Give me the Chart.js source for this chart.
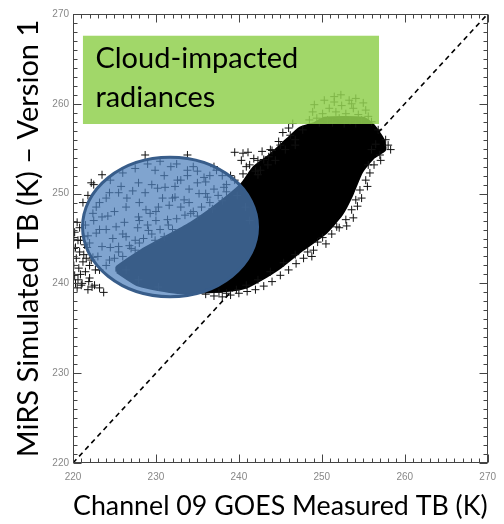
<!DOCTYPE html>
<html>
<head>
<meta charset="utf-8">
<script src="https://cdn.jsdelivr.net/npm/chart.js@4.4.1/dist/chart.umd.min.js"></script>
<style>
html,body{margin:0;padding:0;background:#fff;}
canvas{display:block;}
</style>
</head>
<body>
<canvas id="c" width="504" height="524"></canvas>
<script>
// ---- data (Kelvin) ----
const xTickValues = [220, 230, 240, 250, 260, 270];
const yTickValues = [220, 230, 240, 250, 260, 270];
const xTitle = "Channel 09 GOES Measured TB (K)";
const yTitle = "MiRS Simulated TB (K) \u2013 Version 1";
const noteLines = ["Cloud-impacted", "radiances"];

// outline of the saturated (solid black) part of the scatter cloud
const denseX = [225.3,227.9,232.6,238.5,240.9,242.6,245.0,247.6,250.3,252.4,253.6,254.8,256.2,257.6,257.4,256.2,255.0,250.3,249.1,247.4,245.8,243.8,241.8,240.3,237.3,234.2,228.3,225.3,225.3];
const denseY = [241.3,239.8,239.0,239.2,239.6,240.4,241.8,243.7,245.5,247.7,249.8,252.4,254.0,254.9,256.0,257.6,258.4,258.4,257.8,257.3,256.0,254.3,252.9,251.0,248.7,246.7,243.7,241.8,241.3];

// individual points around the edges of the cloud
const ptsX = [
 220.2,220.6,220.1,220.8,220.4,221.2,220.7,221.5,220.2,222.0,221.1,222.6,220.5,221.8,223.2,223.7,221.4,222.2,220.1,222.7,221.8,220.8,220.6,221.3,222.0,220.1,
 220.3,220.9,221.6,220.5,221.0,222.3,220.3,221.9,220.9,221.7,
 228.7,223.5,222.2,221.2,233.8,239.5,241.1,240.3,242.3,243.6,
 229.9,231.8,233.8,227.9,225.5,224.4,223.2,222.4,223.5,226.4,228.7,231.1,232.6,235.0,235.8,237.3,238.2,236.2,233.4,230.3,227.9,225.2,222.8,222.0,223.5,226.4,229.1,231.4,234.2,224.4,222.4,226.4,227.9,230.3,223.2,232.3,229.9,227.5,225.5,
 224.0,225.0,226.0,226.8,227.5,228.5,229.5,230.5,231.5,232.5,233.5,234.5,235.5,236.5,237.5,238.5,239.5,240.5,225.5,227.0,228.0,229.0,230.0,231.0,232.0,233.0,234.0,235.0,236.0,237.0,238.0,239.0,
 223.0,224.5,226.0,228.0,230.0,232.0,234.0,236.0,238.0,221.5,222.5,224.0,225.0,226.5,228.0,229.5,231.0,233.0,235.0,237.0,224.0,221.8,222.5,
 224.5,226.0,227.5,229.0,230.5,232.5,234.5,236.5,238.5,239.8,240.8,241.3,223.2,224.8,226.2,227.8,229.3,230.8,232.3,233.8,235.2,236.8,221.3,222.8,224.2,225.8,227.2,228.8,230.2,231.6,
 242.6,244.4,245.6,246.8,247.7,245.0,243.5,242.3,246.2,246.8,240.9,243.8,
 240.5,241.3,242.0,243.0,244.0,244.8,245.3,246.0,246.5,242.8,241.8,
 258.0,258.3,257.7,256.8,257.1,255.6,255.3,254.6,254.1,253.6,252.9,252.1,256.0,
 256.5,257.0,256.3,255.8,255.5,254.8,254.3,253.8,253.0,251.2,250.5,249.5,248.8,247.8,246.9,246.0,245.0,244.0,243.0,242.0,241.0,240.0,239.0,238.0,237.0,236.0,
 250.1,249.0,251.8,246.8,245.4,243.8,242.3,240.9,239.7,238.5,237.6,248.3
];
const ptsY = [
 245.7,244.8,243.9,243.5,242.8,242.4,241.7,241.3,240.9,240.6,240.0,239.8,239.5,239.3,239.5,239.0,244.3,242.6,242.0,241.5,245.3,246.2,240.4,243.2,242.0,245.1,
 244.0,241.0,242.8,246.8,239.8,239.6,240.0,240.2,244.8,244.0,
 254.3,252.1,251.2,249.0,254.3,254.6,254.6,253.7,253.7,254.1,
 252.6,253.0,252.6,251.2,250.1,250.1,249.0,247.8,247.4,248.5,250.1,250.7,251.5,251.2,251.8,252.6,250.7,249.6,249.3,248.5,247.4,246.3,245.6,244.5,244.1,245.2,245.9,247.1,247.8,242.6,242.9,241.5,240.4,239.6,241.5,249.6,244.8,243.7,244.1,
 242.0,242.8,243.0,244.2,244.8,245.0,245.5,246.0,246.5,247.2,247.6,248.0,248.5,249.0,249.8,250.2,251.5,252.2,243.5,243.9,244.5,246.5,247.0,245.2,246.0,248.5,249.0,247.5,250.0,250.5,249.2,252.0,
 243.0,244.0,245.5,247.0,248.0,249.5,250.5,251.3,252.0,246.5,247.0,246.0,248.0,249.5,249.0,251.0,252.0,251.5,252.5,253.0,249.5,249.8,251.0,
 251.5,252.3,252.8,253.3,253.6,253.3,253.0,252.0,251.0,249.8,248.5,247.0,246.0,245.0,246.8,246.2,247.8,249.5,250.8,252.0,250.0,248.3,245.2,248.5,247.5,250.8,250.3,248.2,250.6,248.7,
 252.6,253.7,254.9,256.0,257.1,255.4,253.2,252.1,256.5,255.4,253.0,254.9,
 254.5,253.2,252.5,253.8,254.8,255.8,256.8,257.3,257.8,254.7,253.9,
 255.4,254.9,256.0,257.1,253.7,253.2,251.5,250.4,249.3,248.2,247.1,246.2,254.9,
 255.5,254.3,253.2,252.3,250.8,249.5,248.6,247.3,246.4,245.5,244.4,244.6,243.0,242.8,242.2,241.5,240.9,240.2,239.7,239.3,239.1,238.9,238.7,238.5,238.6,238.8,
 245.1,243.7,246.3,243.2,242.3,241.3,240.4,239.8,239.3,238.9,239.0,243.5
];

// points lying under the green label box
const boxPtsX = [252.3,250.3,251.5,253.3,254.1,255.0,249.1,250.9,252.4,253.8,255.3,248.9,250.1,251.7,252.9,254.4,255.6,249.4,250.7,252.1,253.4,254.8,256.0,249.7,251.3,252.7,254.1,248.5,251.5,253.6];
const boxPtsY = [261.0,260.4,260.2,260.4,260.6,260.1,259.9,259.5,259.8,259.5,259.3,259.1,258.9,259.1,258.9,258.8,258.6,258.4,258.2,258.4,258.1,258.2,258.0,257.9,257.9,257.8,257.8,258.2,260.8,260.0];

// 1:1 reference line
const oneToOneX = [220, 270];
const oneToOneY = [220, 270];

// annotation shapes (data units)
const noteBox = {x0: 221.2, x1: 256.9, y0: 257.75, y1: 267.58};
const noteTextPos = {x: 222.7, y1: 264.0, y2: 259.65};
const ellipseShape = {cx: 231.7, cy: 246.28, rx: 10.55, ry: 7.76};

// ---- helpers ----
const zip = (xs, ys) => xs.map((x, i) => ({x: x, y: ys[i]}));
const FAMILY = "Lato, 'Open Sans', 'Noto Sans', sans-serif";
function fitSize(text, width) {
  const c = document.createElement('canvas').getContext('2d');
  c.font = '100px ' + FAMILY;
  return 100 * width / c.measureText(text).width;
}
const xTitleSize = fitSize(xTitle, 423);
const yTitleSize = fitSize(yTitle, 438);
const noteSize = fitSize(noteLines[0], 203);

const framePlugin = {
  id: 'frame',
  afterDatasetsDraw(chart) {
    const ctx = chart.ctx;
    const xs = chart.scales.x, ys = chart.scales.y;
    const a = chart.chartArea;
    ctx.save();
    // ellipse
    const cx = xs.getPixelForValue(ellipseShape.cx), cy = ys.getPixelForValue(ellipseShape.cy);
    const rx = xs.getPixelForValue(ellipseShape.cx + ellipseShape.rx) - cx;
    const ry = cy - ys.getPixelForValue(ellipseShape.cy + ellipseShape.ry);
    ctx.beginPath();
    ctx.ellipse(cx, cy, rx, ry, 0, 0, Math.PI * 2);
    ctx.fillStyle = 'rgba(79,129,189,0.72)';
    ctx.fill();
    ctx.lineWidth = 3;
    ctx.strokeStyle = '#385D8A';
    ctx.stroke();
    // green note box
    const bx0 = xs.getPixelForValue(noteBox.x0), bx1 = xs.getPixelForValue(noteBox.x1);
    const by0 = ys.getPixelForValue(noteBox.y1), by1 = ys.getPixelForValue(noteBox.y0);
    ctx.fillStyle = 'rgba(146,208,80,0.86)';
    ctx.fillRect(bx0, by0, bx1 - bx0, by1 - by0);
    ctx.fillStyle = '#000';
    ctx.font = noteSize.toFixed(2) + 'px ' + FAMILY;
    ctx.textBaseline = 'alphabetic';
    ctx.textAlign = 'left';
    ctx.fillText(noteLines[0], xs.getPixelForValue(noteTextPos.x), ys.getPixelForValue(noteTextPos.y1));
    ctx.fillText(noteLines[1], xs.getPixelForValue(noteTextPos.x), ys.getPixelForValue(noteTextPos.y2));
    // frame
    ctx.strokeStyle = '#444';
    ctx.lineWidth = 1;
    const L = Math.round(a.left) + 0.5, R = Math.round(a.right) - 0.5;
    const T = Math.round(a.top) + 0.5, B = Math.round(a.bottom) - 0.5;
    ctx.strokeRect(L, T, R - L, B - T);
    ctx.beginPath();
    for (let v = 220; v <= 270; v++) {
      const major = v % 10 === 0;
      const len = major ? 8 : 4;
      const px = Math.round(xs.getPixelForValue(v)) + 0.5;
      const py = Math.round(ys.getPixelForValue(v)) + 0.5;
      ctx.moveTo(px, B); ctx.lineTo(px, B - len);
      ctx.moveTo(px, T); ctx.lineTo(px, T + len);
      ctx.moveTo(L, py); ctx.lineTo(L + len, py);
      ctx.moveTo(R, py); ctx.lineTo(R - len, py);
    }
    ctx.stroke();
    ctx.restore();
  }
};

new Chart(document.getElementById('c'), {
  type: 'scatter',
  data: {
    datasets: [
      {type: 'line', data: zip(denseX, denseY), fill: 'shape', backgroundColor: '#000', borderColor: '#000',
       borderWidth: 3, pointRadius: 0, tension: 0.2, order: 3},
      {data: zip(ptsX, ptsY), pointStyle: 'cross', pointRadius: 4, borderColor: '#111', borderWidth: 1, order: 2},
      {data: zip(boxPtsX, boxPtsY), pointStyle: 'cross', pointRadius: 4, borderColor: '#111', borderWidth: 1, order: 2},
      {type: 'line', data: zip(oneToOneX, oneToOneY), borderColor: '#000', borderWidth: 1.6, borderDash: [5, 4],
       pointRadius: 0, fill: false, order: 1}
    ]
  },
  options: {
    responsive: false,
    animation: false,
    events: [],
    layout: {padding: {top: 14, right: 7, left: 0, bottom: 0}},
    plugins: {legend: {display: false}, tooltip: {enabled: false}},
    scales: {
      x: {
        type: 'linear', min: 220, max: 270,
        afterBuildTicks: s => { s.ticks = xTickValues.map(v => ({value: v})); },
        afterFit: s => { s.height = 61; },
        grid: {display: false, drawTicks: false},
        border: {display: false},
        ticks: {color: '#888', font: {family: "'Liberation Sans', Arial, sans-serif", size: 10}, padding: 8, maxRotation: 0},
        title: {display: true, text: xTitle, color: '#000', font: {family: FAMILY, size: xTitleSize}, padding: {top: 0, bottom: 1}}
      },
      y: {
        type: 'linear', min: 220, max: 270,
        afterBuildTicks: s => { s.ticks = yTickValues.map(v => ({value: v})); },
        afterFit: s => { s.width = 73; },
        grid: {display: false, drawTicks: false},
        border: {display: false},
        ticks: {color: '#888', font: {family: "'Liberation Sans', Arial, sans-serif", size: 10}, padding: 4},
        title: {display: true, text: yTitle, color: '#000', font: {family: FAMILY, size: yTitleSize}, padding: {top: 11, bottom: 0}}
      }
    }
  },
  plugins: [framePlugin]
});
</script>
</body>
</html>
